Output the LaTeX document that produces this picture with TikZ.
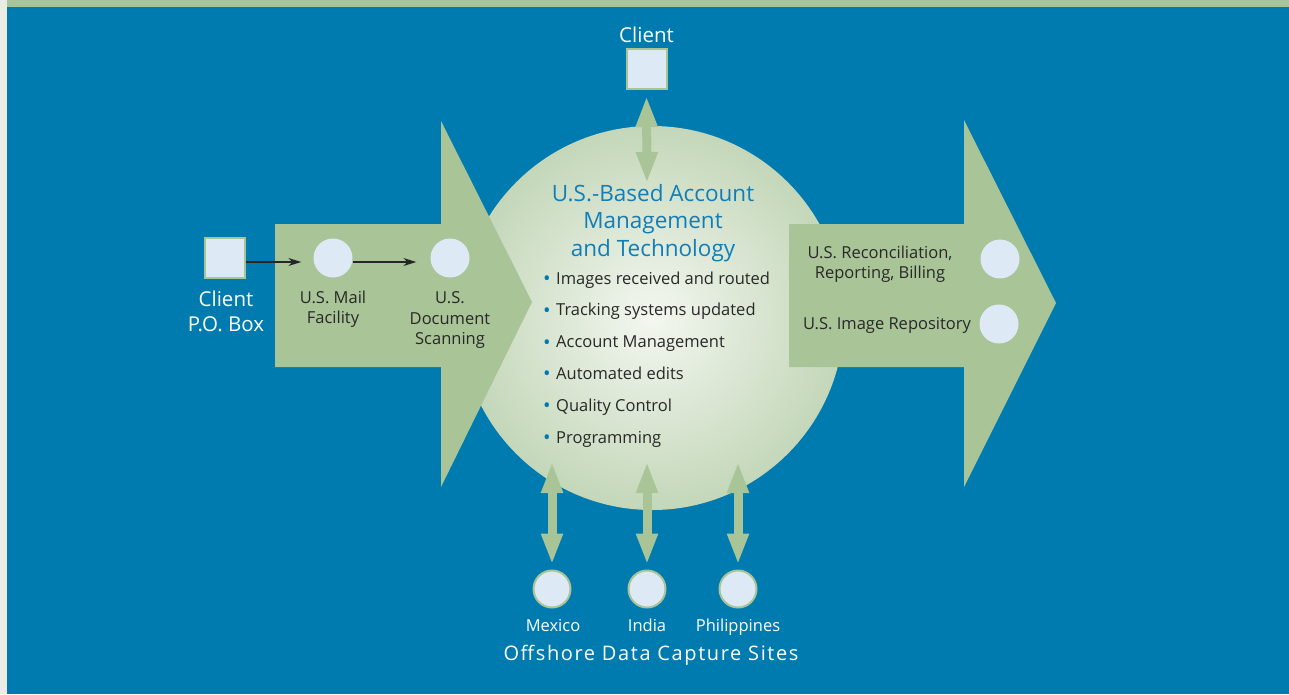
\documentclass[tikz,border=0pt]{standalone}
\usepackage{fontspec}
\setmainfont{Open Sans}
\usetikzlibrary{arrows.meta}

\definecolor{bgblue}{RGB}{0,123,175}
\definecolor{stripgrey}{RGB}{233,237,228}
\definecolor{arrowgreen}{RGB}{169,196,151}
\definecolor{lightbox}{RGB}{221,233,245}
\definecolor{hubin}{RGB}{243,247,240}
\definecolor{hubout}{RGB}{196,215,185}
\definecolor{titleblue}{RGB}{16,126,184}
\definecolor{bulletblue}{RGB}{0,121,178}
\definecolor{darktext}{RGB}{40,40,40}

\tikzset{
  clientbox/.style={draw=arrowgreen, line width=2pt, fill=lightbox, minimum size=40pt, inner sep=0pt},
  stagedot/.style={circle, fill=lightbox, minimum size=39pt, inner sep=0pt},
  sitedot/.style={circle, draw=arrowgreen, line width=2pt, fill=lightbox, minimum size=37pt, inner sep=0pt},
  stagetext/.style={text=darktext, font=\fontsize{16.5}{20.5}\selectfont, align=center, inner sep=0pt},
  whitetext/.style={text=white, font=\fontsize{16.5}{20}\selectfont, align=center, inner sep=0pt, anchor=base},
  bigwhite/.style={text=white, font=\fontsize{20.5}{25}\selectfont, align=center, inner sep=0pt},
  flow/.style={draw=black!85, line width=1.2pt, -{Stealth[length=13pt,width=8pt]}},
  twoway/.style={draw=arrowgreen, line width=9pt, {Triangle[length=31pt,width=20pt]}-{Triangle[length=31pt,width=20pt]}},
}

\begin{document}
\begin{tikzpicture}[x=1pt,y=-1pt]

\useasboundingbox (0,0) rectangle (1289,694);

% background
\fill[stripgrey] (0,0) rectangle (1289,694);
\fill[arrowgreen] (7,0) rectangle (1289,7);
\fill[bgblue] (7,7) rectangle (1289,694);

% hub
\node[circle, minimum size=384pt, inner sep=0pt, inner color=hubin, outer color=hubout] (hub) at (652,318) {};

% big arrows
\path (275,224) coordinate (InTail1);
\path (441,224) coordinate (InNeck1);
\path (441,121) coordinate (InBarb1);
\path (532,302) coordinate (InTip);
\path (441,487) coordinate (InBarb2);
\path (441,367) coordinate (InNeck2);
\path (275,367) coordinate (InTail2);

\path (789,224) coordinate (OutTail1);
\path (964,224) coordinate (OutNeck1);
\path (964,120) coordinate (OutBarb1);
\path (1056,303) coordinate (OutTip);
\path (964,487) coordinate (OutBarb2);
\path (964,367) coordinate (OutNeck2);
\path (789,367) coordinate (OutTail2);

\fill[arrowgreen] (InTail1) -- (InNeck1) -- (InBarb1) -- (InTip) -- (InBarb2) -- (InNeck2) -- (InTail2) -- cycle;
\fill[arrowgreen] (OutTail1) -- (OutNeck1) -- (OutBarb1) -- (OutTip) -- (OutBarb2) -- (OutNeck2) -- (OutTail2) -- cycle;

% hub text
\node[text=titleblue, font=\fontsize{22.5}{27.5}\selectfont, align=center, inner sep=0pt] (hubtitle) at (653,223)
  {U.S.-Based Account\\Management\\and Technology};
\foreach \job [count=\i] in {Images received and routed, Tracking systems updated, Account Management,
    Automated edits, Quality Control, Programming}
  \node[stagetext, anchor=base west] (job\i) at (543,{284+31.8*(\i-1)})
    {\raisebox{-1.5pt}{\textcolor{bulletblue}{\fontsize{20}{20}\selectfont\textbullet}}\hspace{5.5pt}\job};

% client and stages
\node[clientbox] (client) at (646.5,69) {};
\node[bigwhite, anchor=south] (clientlbl) at (646.5,43) {Client};

\node[clientbox] (pobox) at (224.5,258) {};
\node[bigwhite] (poboxlbl) at (226,311) {Client\\P.O. Box};

\node[stagedot] (mail) at (333,258) {};
\node[stagedot] (scan) at (450,258) {};
\node[stagetext] (maillbl) at (333,309) {U.S. Mail\\Facility};
\node[stagetext] (scanlbl) at (450,320) {U.S.\\Document\\Scanning};

\draw[flow] ([yshift=-4pt]pobox.east) -- ([yshift=-4pt]mail.west) [shorten >=12pt];
\draw[flow, shorten >=14pt] ([yshift=-4pt]mail.east) -- ([yshift=-4pt]scan.west);

\node[stagedot] (recon) at (1000,259) {};
\node[stagedot] (repo) at (999,324) {};
\node[stagetext] (reconlbl) at (880,264) {U.S. Reconciliation,\\Reporting, Billing};
\node[stagetext] (repolbl) at (887,325) {U.S. Image Repository};

% offshore sites
\node[sitedot] (mexico) at (552,589) {};
\node[sitedot] (india) at (647,589) {};
\node[sitedot] (phil) at (738,589) {};
\node[whitetext] (mexicolbl) at (553,631) {Mexico};
\node[whitetext] (indialbl) at (647,631) {India};
\node[whitetext] (phillbl) at (738,631) {Philippines};
\node[bigwhite, anchor=base, font=\fontsize{20}{24}\selectfont\addfontfeature{LetterSpace=8}] (offshore) at (651,660)
  {Offshore Data Capture Sites};

% two-way links
\path (647,183) coordinate (hubtop);
\path (552,462) coordinate (hubmexico);
\path (647,462) coordinate (hubindia);
\path (738,462) coordinate (hubphil);

\draw[twoway] ([yshift=-6pt]client.south) -- (hubtop);
\draw[twoway] (hubmexico) -- ([yshift=5pt]mexico.north);
\draw[twoway] (hubindia) -- ([yshift=5pt]india.north);
\draw[twoway] (hubphil) -- ([yshift=5pt]phil.north);

\end{tikzpicture}
\end{document}
